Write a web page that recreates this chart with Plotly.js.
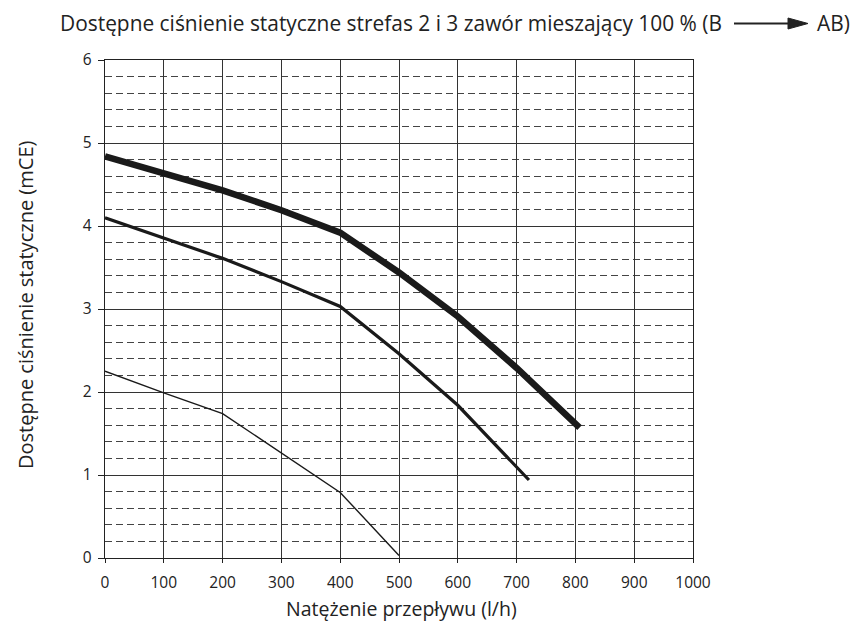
<!DOCTYPE html>
<html>
<head>
<meta charset="utf-8">
<script src="https://cdn.plot.ly/plotly-3.0.1.min.js"></script>
<style>html,body{margin:0;padding:0;background:#fff;}#chart{width:856px;height:623px;}</style>
</head>
<body>
<div id="chart"></div>
<script>
// Data
const thickX = [0, 100, 200, 300, 400, 500, 600, 700, 807];
const thickY = [4.84, 4.64, 4.43, 4.19, 3.92, 3.44, 2.91, 2.29, 1.57];
const mediumX = [0, 100, 200, 300, 400, 500, 600, 721];
const mediumY = [4.10, 3.86, 3.61, 3.33, 3.03, 2.46, 1.84, 0.94];
const thinX = [0, 100, 200, 300, 400, 500];
const thinY = [2.25, 1.99, 1.74, 1.27, 0.79, 0.03];
const xTicks = [0, 100, 200, 300, 400, 500, 600, 700, 800, 900, 1000];
const yTicks = [0, 1, 2, 3, 4, 5, 6];

const titleLeft = 'Dostępne ciśnienie statyczne strefas 2 i 3 zawór mieszający 100 % (B';
const titleRight = 'AB)';
const xTitle = 'Natężenie przepływu (l/h)';
const yTitle = 'Dostępne ciśnienie statyczne (mCE)';

const L = 105, R = 163, T = 60, B = 65;
const W = 856, H = 623;
const pw = W - L - R, ph = H - T - B;
const px = v => (v - L) / pw;       // pixel x -> paper
const py = v => (H - B - v) / ph;   // pixel y -> paper

const font = 'Open Sans, Noto Sans, sans-serif';
const ink = '#1a1a1a';
const txt = '#222';

const traces = [
  {x: thinX, y: thinY, mode: 'lines', line: {color: ink, width: 1.4}, hoverinfo: 'skip'},
  {x: mediumX, y: mediumY, mode: 'lines', line: {color: ink, width: 3.2}, hoverinfo: 'skip'},
  {x: thickX, y: thickY, mode: 'lines', line: {color: ink, width: 6.5}, hoverinfo: 'skip'}
];

const layout = {
  width: W, height: H,
  margin: {l: L, r: R, t: T, b: B, pad: 0},
  paper_bgcolor: '#fff', plot_bgcolor: '#fff',
  showlegend: false,
  font: {family: font, color: txt, size: 15},
  xaxis: {
    range: [0, 1000], tickvals: xTicks, ticktext: xTicks.map(String),
    showgrid: true, gridcolor: '#333', gridwidth: 1,
    showline: true, linecolor: '#222', linewidth: 1.2, mirror: true,
    ticks: 'outside', ticklen: 4, tickcolor: '#222', ticklabelstandoff: 6,
    zeroline: false, fixedrange: true,
    tickfont: {family: font, size: 15.5, color: txt}
  },
  yaxis: {
    range: [0, 6], tickvals: yTicks, ticktext: yTicks.map(String),
    showgrid: true, gridcolor: '#333', gridwidth: 1,
    showline: true, linecolor: '#222', linewidth: 1.2, mirror: true,
    ticks: 'outside', ticklen: 6, tickcolor: '#222', ticklabelstandoff: 3,
    zeroline: false, fixedrange: true,
    tickfont: {family: font, size: 15.5, color: txt},
    minor: {dtick: 0.2, showgrid: true, gridcolor: '#444', gridwidth: 1, griddash: '7px,4px', ticks: ''}
  },
  annotations: [
    {xref: 'paper', yref: 'paper', x: px(724), y: py(23), xanchor: 'right', yanchor: 'middle',
     text: titleLeft, showarrow: false, font: {family: font, size: 20.9, color: txt}},
    {xref: 'paper', yref: 'paper', x: px(815), y: py(23), xanchor: 'left', yanchor: 'middle',
     text: titleRight, showarrow: false, font: {family: font, size: 20.9, color: txt}},
    {xref: 'paper', yref: 'paper', x: px(401), y: py(608), xanchor: 'center', yanchor: 'middle',
     text: xTitle, showarrow: false, font: {family: font, size: 19.5, color: txt}},
    {xref: 'paper', yref: 'paper', x: px(25), y: py(305), xanchor: 'center', yanchor: 'middle',
     text: yTitle, textangle: -90, showarrow: false, font: {family: font, size: 20, color: txt}}
  ],
  shapes: [
    {type: 'line', xref: 'paper', yref: 'paper', x0: px(734), x1: px(792), y0: py(23.5), y1: py(23.5),
     line: {color: '#222', width: 2}},
    {type: 'path', xref: 'paper', yref: 'paper',
     path: `M ${px(788)} ${py(18)} L ${px(808)} ${py(23.5)} L ${px(788)} ${py(29)} Z`,
     fillcolor: '#222', line: {color: '#222', width: 1}}
  ]
};

Plotly.newPlot('chart', traces, layout, {staticPlot: true, displayModeBar: false});
</script>
</body>
</html>
